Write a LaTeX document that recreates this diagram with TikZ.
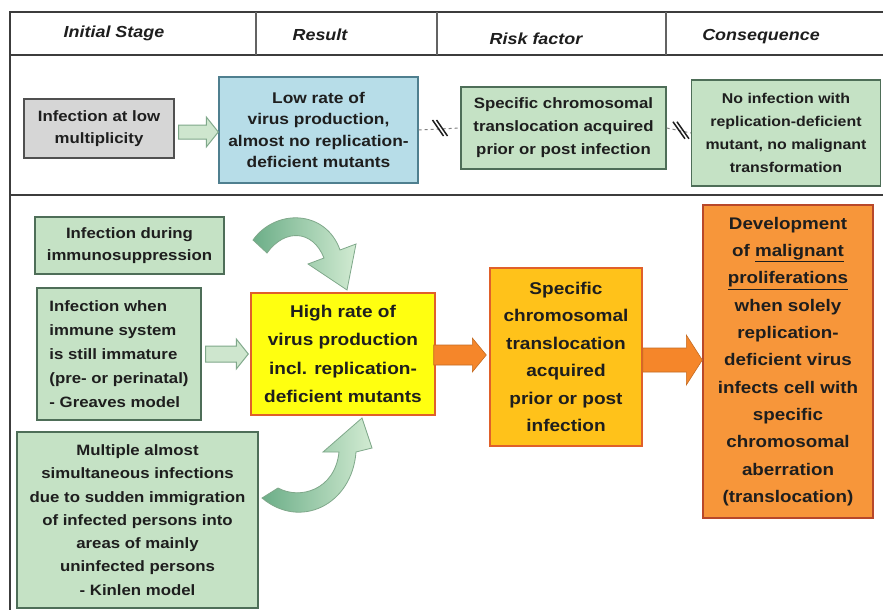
\documentclass[tikz,border=0pt]{standalone}
\usepackage{fontspec}
\setmainfont{Liberation Sans}[FakeStretch=1.12]
\usetikzlibrary{calc}
\definecolor{frame}{HTML}{3C3C3C}
\definecolor{txt}{HTML}{1E1E1E}
\definecolor{grayfill}{HTML}{D6D6D6}
\definecolor{grayline}{HTML}{505050}
\definecolor{bluefill}{HTML}{B7DDE8}
\definecolor{blueline}{HTML}{4F7F8F}
\definecolor{greenfill}{HTML}{C5E2C5}
\definecolor{greenline}{HTML}{4E6E58}
\definecolor{yellowfill}{HTML}{FFFF10}
\definecolor{redline}{HTML}{E0602A}
\definecolor{goldfill}{HTML}{FFC21A}
\definecolor{orangefill}{HTML}{F7963A}
\definecolor{darkred}{HTML}{B8482A}
\definecolor{arroworange}{HTML}{F5862A}
\definecolor{cgdark}{HTML}{6CAE88}
\definecolor{cglight}{HTML}{D2EBD2}
\definecolor{cgline}{HTML}{7FA88A}
\newcommand\blockarr[9]{%
  \path[#1] let \p1=(#2.east), \p2=(#3.west) in
    (\x1+#8pt,#4-#5) -- (\x2-#7pt-#9pt,#4-#5) -- (\x2-#7pt-#9pt,#4-#6) --
    (\x2-#9pt,#4) -- (\x2-#7pt-#9pt,#4+#6) -- (\x2-#7pt-#9pt,#4+#5) --
    (\x1+#8pt,#4+#5) -- cycle;}
\begin{document}
\begin{tikzpicture}[x=1pt,y=-1pt,
  box/.style={draw, line width=1.4pt, inner sep=0pt, align=center, text=txt,
    font=\bfseries\fontsize{15}{22.5}\selectfont},
  big/.style={font=\bfseries\fontsize{17}{27.5}\selectfont},
  gbox/.style={box, fill=greenfill, draw=greenline},
  hdr/.style={font=\bfseries\itshape\fontsize{16}{19}\selectfont, text=txt},
  garrow/.style={fill=greenfill!85!white, draw=cgline, line width=1pt},
  oarrow/.style={fill=arroworange, draw=arroworange!80!black, line width=0.6pt},
  brk/.style={draw=gray, dashed, line width=1pt},
  slash/.style={draw=txt, line width=1.5pt},
  curvarr/.style={left color=cgdark, right color=cglight, draw=cgline, line width=0.8pt}]
\useasboundingbox (0,0) rectangle (883,610);
\fill[white] (0,0) rectangle (883,610);
% frame
\draw[frame, line width=2pt] (883,12) -- (10,12) -- (10,610);
\draw[frame, line width=1.6pt] (10,55) -- (883,55);
\draw[frame, line width=2.6pt] (10,195) -- (883,195);
\draw[frame!80, line width=1.2pt] (256,12) -- (256,55) (437,12) -- (437,55) (666,12) -- (666,55);
% header
\node[hdr] (h1) at (114,33) {Initial Stage};
\node[hdr] (h2) at (320,34.5) {Result};
\node[hdr] (h3) at (536,39) {Risk factor};
\node[hdr] (h4) at (761,36.5) {Consequence};
% top row
\node[box, fill=grayfill, draw=grayline, minimum width=150, minimum height=59,
  font=\bfseries\fontsize{15}{22}\selectfont] (low) at (99,128.5)
  {Infection at low\\multiplicity};
\node[box, fill=bluefill, draw=blueline, minimum width=199, minimum height=106,
  font=\bfseries\fontsize{15.5}{21.5}\selectfont] (lowrate) at (318.5,130)
  {Low rate of\\virus production,\\almost no replication-\\deficient mutants};
\node[gbox, minimum width=205, minimum height=82,
  font=\bfseries\fontsize{15}{23}\selectfont] (spec1) at (563.5,128)
  {Specific chromosomal\\translocation acquired\\prior or post infection};
\node[gbox, minimum width=189, minimum height=106,
  font=\bfseries\fontsize{14.2}{23}\selectfont] (noinf) at (786,133)
  {No infection with\\replication-deficient\\mutant, no malignant\\transformation};
\blockarr{garrow}{low}{lowrate}{132}{7}{15}{12}{4}{0}
\draw[brk] (lowrate.east) -- (spec1.west) coordinate[pos=0.5] (m1);
\draw[slash] ($(m1)+(-7,-9)$) -- ($(m1)+(4,7)$);
\draw[slash] ($(m1)+(-3,-9)$) -- ($(m1)+(8,7)$);
\draw[brk] (spec1.east) -- (noinf.west) coordinate[pos=0.55] (m2);
\draw[slash] ($(m2)+(-7,-9)$) -- ($(m2)+(5,8)$);
\draw[slash] ($(m2)+(-3,-9)$) -- ($(m2)+(9,8)$);
% lower part
\node[gbox, minimum width=189, minimum height=57,
  font=\bfseries\fontsize{15}{22}\selectfont] (immuno) at (129.5,245.5)
  {Infection during\\immunosuppression};
\node[gbox, minimum width=164, minimum height=132, align=left,
  font=\bfseries\fontsize{15}{24}\selectfont] (greaves) at (119,354)
  {Infection when\\immune system\\is still immature\\(pre- or perinatal)\\- Greaves model};
\node[gbox, minimum width=241, minimum height=176,
  font=\bfseries\fontsize{15}{23.3}\selectfont] (kinlen) at (137.5,520)
  {Multiple almost\\simultaneous infections\\due to sudden immigration\\of infected persons into\\areas of mainly\\uninfected persons\\- Kinlen model};
\node[box, big, fill=yellowfill, draw=redline, minimum width=184, minimum height=122,
  font=\bfseries\fontsize{17}{28.5}\selectfont] (high) at (343,354)
  {High rate of\\virus production\\incl. replication-\\deficient mutants};
\node[box, big, fill=goldfill, draw=redline, minimum width=152, minimum height=178] (risk) at (566,357)
  {Specific\\chromosomal\\translocation\\acquired\\prior or post\\infection};
\node[box, big, fill=orangefill, draw=darkred, minimum width=170, minimum height=313,
  font=\bfseries\fontsize{16.8}{27.3}\selectfont] (dev) at (788,361.5)
  {Development\\of \underline{malignant}\\\underline{proliferations}\\when solely\\replication-\\deficient virus\\infects cell with\\specific\\chromosomal\\aberration\\(translocation)};
\blockarr{garrow}{greaves}{high}{354}{8}{15}{12}{4}{2}
\blockarr{oarrow}{high}{risk}{355}{10}{17}{14}{-2}{3}
\blockarr{oarrow}{risk}{dev}{360}{12}{25}{16}{0}{0}
% curved arrows
\path[curvarr] (253,240) .. controls (276,208) and (326,210) .. (340,250)
  -- (356,244) -- (347,290) -- (308,264) -- (324,258)
  .. controls (313,230) and (285,228) .. (267,253) -- cycle;
\path[curvarr] (262,498) .. controls (300,530) and (352,505) .. (356,452)
  -- (372,448) -- (362,418) -- (323,452) -- (339,452)
  .. controls (335,490) and (300,500) .. (278,488) -- cycle;
\end{tikzpicture}
\end{document}
